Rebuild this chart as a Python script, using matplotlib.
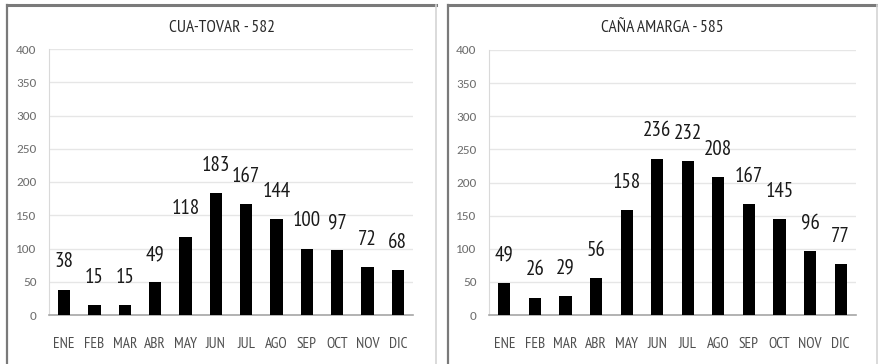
import matplotlib
matplotlib.use("Agg")
import matplotlib.pyplot as plt
from matplotlib.lines import Line2D

months = ["ENE", "FEB", "MAR", "ABR", "MAY", "JUN", "JUL", "AGO", "SEP", "OCT", "NOV", "DIC"]
cua_tovar = [38, 15, 15, 49, 118, 183, 167, 144, 100, 97, 72, 68]
cana_amarga = [49, 26, 29, 56, 158, 236, 232, 208, 167, 145, 96, 77]
titles = ["CUA-TOVAR - 582", "CAÑA AMARGA - 585"]
y_ticks = [0, 50, 100, 150, 200, 250, 300, 350, 400]

plt.rcParams["font.family"] = ["Carlito", "DejaVu Sans"]
NARROW = ["PT Sans Narrow", "Carlito", "DejaVu Sans"]

W, H = 879, 364
fig = plt.figure(figsize=(W / 100, H / 100), dpi=100)
fig.patch.set_facecolor("white")


def px_rect(x0, x1, y_top, y_bot):
    return [x0 / W, 1 - y_bot / H, (x1 - x0) / W, (y_bot - y_top) / H]


def frame(x0, x1, y0):
    # panel outline: darker top/left edge, light right edge
    fig.add_artist(Line2D([x0 / W, x1 / W], [1 - y0 / H] * 2, transform=fig.transFigure,
                          color="#7a7a7a", lw=2.2))
    fig.add_artist(Line2D([x0 / W] * 2, [1 - y0 / H, 0], transform=fig.transFigure,
                          color="#7a7a7a", lw=1.6))
    fig.add_artist(Line2D([x1 / W] * 2, [1 - y0 / H, 0], transform=fig.transFigure,
                          color="#d4d4d4", lw=1.2))


frame(7, 436, 5)
frame(448, 877, 5)

panels = [
    (px_rect(49, 413, 49, 315), cua_tovar, titles[0], 222),
    (px_rect(489, 856, 50, 315), cana_amarga, titles[1], 662),
]

for rect, values, title, tx in panels:
    ax = fig.add_axes(rect)
    x = list(range(len(months)))
    ax.bar(x, values, width=0.4, color="black", zorder=3)
    ax.set_xlim(-0.5, len(months) - 0.5)
    ax.set_ylim(0, 400)
    ax.set_yticks(y_ticks)
    ax.set_yticklabels([str(v) for v in y_ticks])
    ax.set_xticks(x)
    ax.set_xticklabels(months, family=NARROW)
    ax.tick_params(axis="y", length=0, pad=9, labelsize=9.5, labelcolor="#6e6e6e")
    ax.tick_params(axis="x", length=0, pad=16, labelsize=11, labelcolor="#4f4f4f")
    ax.grid(axis="y", color="#e6e6e6", lw=1, zorder=0)
    for s in ["top", "right"]:
        ax.spines[s].set_visible(False)
    ax.spines["left"].set_color("#d9d9d9")
    ax.spines["bottom"].set_color("#a6a6a6")
    ax.spines["bottom"].set_linewidth(1.2)
    for xi, v in zip(x, values):
        ax.annotate(str(v), (xi, v), xytext=(0, 20), textcoords="offset points",
                    ha="center", va="center", fontsize=15, color="#1a1a1a",
                    family=NARROW)
    fig.text(tx / W, 1 - 28 / H, title, ha="center", va="center", fontsize=12.5,
             color="#2a2a2a", family=NARROW)

fig.savefig("out.png", dpi=100, facecolor="white")
